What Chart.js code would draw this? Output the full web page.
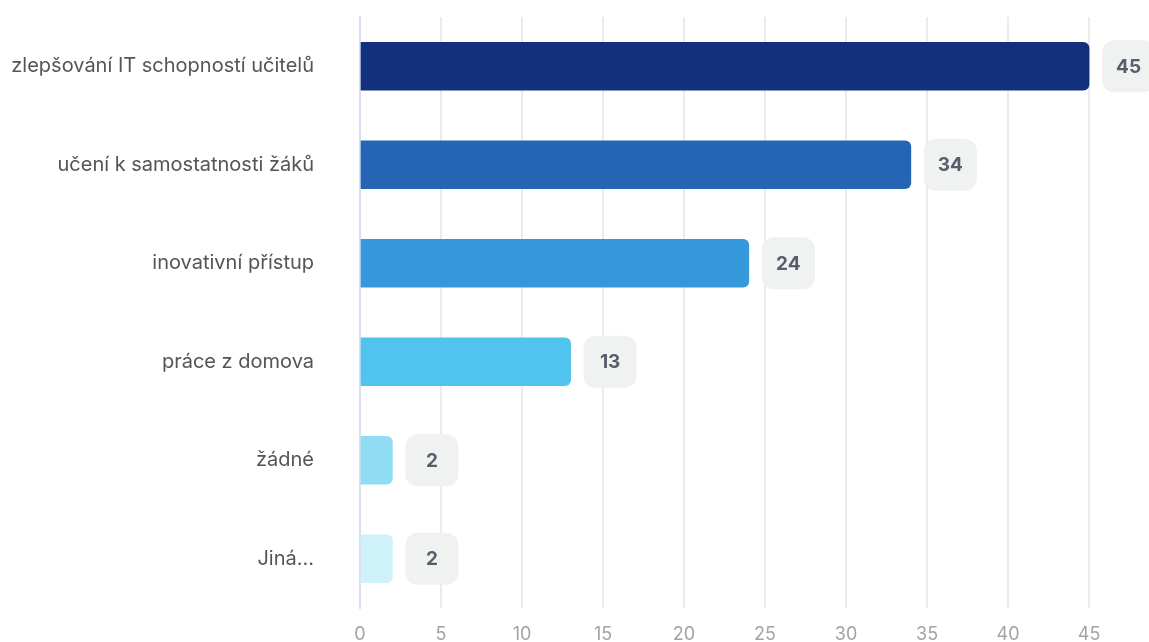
<!DOCTYPE html>
<html>
<head>
<meta charset="utf-8">
<script src="https://cdn.jsdelivr.net/npm/chart.js@4"></script>
<style>
  body { margin: 0; background: #fff; }
  canvas { display: block; }
</style>
</head>
<body>
<canvas id="answersChart" width="1149" height="642"></canvas>
<script>
// Answers and counts
const categories = ['zlepšování IT schopností učitelů', 'učení k samostatnosti žáků', 'inovativní přístup', 'práce z domova', 'žádné', 'Jiná...'];
const counts = [45, 34, 24, 13, 2, 2];
const barColors = ['#13307f', '#2465b4', '#3598db', '#50c3ee', '#8fdcf3', '#cff1fa'];
const xTicks = [0, 5, 10, 15, 20, 25, 30, 35, 40, 45];

// Rounded grey badge with the count, right of each bar
const valueBadges = {
    id: 'valueBadges',
    afterDatasetsDraw(chart) {
        const ctx = chart.ctx;
        const meta = chart.getDatasetMeta(0);
        ctx.save();
        meta.data.forEach((bar, i) => {
            const w = 53, h = 52;
            const x = bar.x + 13;
            const y = bar.y - h / 2;
            ctx.fillStyle = '#f0f1f1';
            ctx.beginPath();
            ctx.roundRect(x, y, w, h, 12);
            ctx.fill();
            ctx.fillStyle = '#575d6b';
            ctx.font = 'bold 19px Inter';
            ctx.textAlign = 'center';
            ctx.textBaseline = 'middle';
            ctx.fillText(counts[i], x + w / 2, bar.y + 1);
        });
        ctx.restore();
    }
};

const ctx = document.getElementById('answersChart').getContext('2d');
new Chart(ctx, {
    type: 'bar',
    data: {
        labels: categories,
        datasets: [{
            data: counts,
            backgroundColor: barColors,
            borderRadius: { topRight: 6, bottomRight: 6 },
            borderSkipped: false,
            barThickness: 48
        }]
    },
    options: {
        indexAxis: 'y',
        responsive: false,
        animation: false,
        layout: { padding: { top: 17, right: 0, bottom: 0, left: 0 } },
        plugins: {
            legend: { display: false },
            tooltip: { enabled: false }
        },
        scales: {
            x: {
                min: 0,
                max: 48.7,
                afterBuildTicks: axis => {
                    axis.ticks = xTicks.map(v => ({ value: v }));
                },
                afterFit: axis => {
                    axis.height = 34;
                    axis.paddingLeft = 0;
                    axis.paddingRight = 0;
                },
                grid: { color: '#ebebeb', lineWidth: 2, drawTicks: false },
                border: { display: false },
                ticks: { color: '#a3a3a3', font: { family: 'Inter', size: 18 }, padding: 16 }
            },
            y: {
                afterFit: axis => {
                    axis.width = 360;
                    axis.paddingTop = 0;
                    axis.paddingBottom = 0;
                },
                grid: { display: false, drawTicks: false },
                border: { color: '#d9e0f0', width: 2 },
                ticks: { color: '#555', font: { family: 'Inter', size: 20 }, padding: 46 }
            }
        }
    },
    plugins: [valueBadges]
});
</script>
</body>
</html>
